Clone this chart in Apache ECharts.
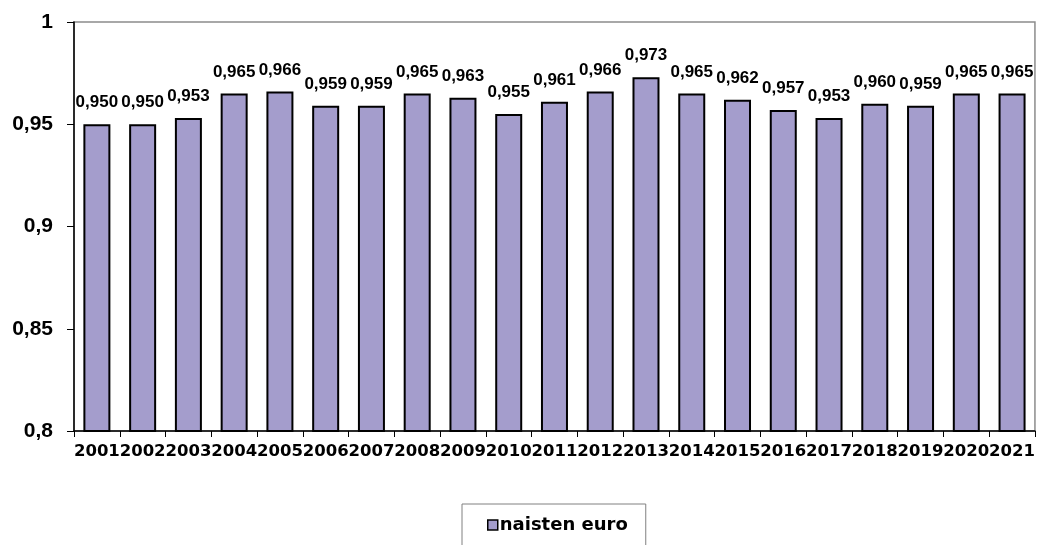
<!DOCTYPE html>
<html>
<head>
<meta charset="utf-8">
<script src="https://cdn.jsdelivr.net/npm/echarts@6/dist/echarts.min.js"></script>
<style>
html,body{margin:0;padding:0;background:#fff;}
#chart{width:1038px;height:545px;}
</style>
</head>
<body>
<div id="chart"></div>
<script>
const categories = ['2001','2002','2003','2004','2005','2006','2007','2008','2009','2010','2011','2012','2013','2014','2015','2016','2017','2018','2019','2020','2021'];
const naistenEuro = [0.950,0.950,0.953,0.965,0.966,0.959,0.959,0.965,0.963,0.955,0.961,0.966,0.973,0.965,0.962,0.957,0.953,0.960,0.959,0.965,0.965];
const yTickLabels = ['0,8','0,85','0,9','0,95','1'];
const seriesName = 'naisten euro';
const ARIAL = "'Liberation Sans', Arial, sans-serif";

const chart = echarts.init(document.getElementById('chart'), null, {renderer:'canvas'});
chart.setOption({
  animation:false,
  backgroundColor:'#fff',
  grid:{left:74, right:2, top:22, bottom:114, show:true, borderColor:'#8c8c8c', borderWidth:1.5},
  legend:{
    data:[seriesName],
    left:462, top:504,
    padding:[12,18,30,25],
    borderColor:'#808080', borderWidth:1,
    icon:'rect', itemWidth:10, itemHeight:10, itemGap:10,
    itemStyle:{color:'#a49dcc', borderColor:'#000', borderWidth:1.5},
    textStyle:{fontFamily:'DejaVu Sans', fontWeight:'bold', fontSize:18, color:'#000', padding:[0,0,0,-3]}
  },
  xAxis:{
    type:'category', data:categories, boundaryGap:true,
    axisLine:{lineStyle:{color:'#000', width:1.5}},
    axisTick:{show:true, alignWithLabel:false, length:6, lineStyle:{color:'#000', width:1}},
    axisLabel:{interval:0, margin:12, color:'#000', fontFamily:'DejaVu Sans', fontWeight:'bold', fontSize:16.5},
    splitLine:{show:false}
  },
  yAxis:{
    type:'value', min:0.8, max:1, interval:0.05,
    axisLine:{show:true, lineStyle:{color:'#000', width:1.5}},
    axisTick:{show:true, length:7, lineStyle:{color:'#000', width:1}},
    axisLabel:{margin:21, color:'#000', fontFamily:ARIAL, fontWeight:'bold', fontSize:21,
      formatter:(v,i)=>yTickLabels[i]},
    splitLine:{show:false}
  },
  series:[{
    name:seriesName, type:'bar', data:naistenEuro, barWidth:27,
    itemStyle:{color:'#a49dcc', borderColor:'#000', borderWidth:2},
    label:{show:true, position:'top', distance:13, color:'#000',
      fontFamily:ARIAL, fontWeight:'bold', fontSize:17,
      formatter:p=>p.value.toFixed(3).replace('.',',')}
  }]
});
</script>
</body>
</html>
